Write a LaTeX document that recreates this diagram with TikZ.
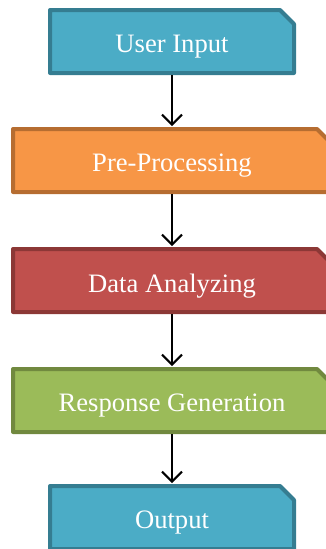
\documentclass[tikz,border=0pt]{standalone}
\usepackage{fontspec}
\setmainfont{Liberation Serif}
\usetikzlibrary{shapes.misc,arrows.meta}
\definecolor{bluefill}{HTML}{4BACC6}
\definecolor{blueline}{HTML}{357D91}
\definecolor{orangefill}{HTML}{F79646}
\definecolor{orangeline}{HTML}{B66D31}
\definecolor{redfill}{HTML}{C0504D}
\definecolor{redline}{HTML}{8C3836}
\definecolor{greenfill}{HTML}{9BBB59}
\definecolor{greenline}{HTML}{71893F}
\newcommand{\boxtext}[1]{\raisebox{-5.5pt}[\height][\depth]{#1}}
\tikzset{
  flowbox/.style={chamfered rectangle, chamfered rectangle corners=north east,
    chamfered rectangle xsep=7pt, chamfered rectangle ysep=7pt,
    line width=4pt, line join=round, minimum height=63pt, inner sep=0pt,
    text=white, font=\fontsize{26.6}{31}\selectfont},
  shortbox/.style={flowbox, minimum width=244pt},
  longbox/.style={flowbox, minimum width=318pt},
  flowarrow/.style={line width=2pt, -{Straight Barb[length=10pt,width=20pt,line width=2pt]}, shorten >=1pt}
}
\begin{document}
\begin{tikzpicture}[x=1pt,y=1pt]
\useasboundingbox (0,0) rectangle (326,-549);
\clip (0,0) rectangle (326,-549);
\node[shortbox, fill=bluefill, draw=blueline] (in) at (172,-41.5) {\boxtext{User Input}};
\node[longbox, fill=orangefill, draw=orangeline] (pre) at (172,-160.5) {\boxtext{Pre-Processing}};
\node[longbox, fill=redfill, draw=redline] (data) at (172,-280.5) {\boxtext{Data Analyzing}};
\node[longbox, fill=greenfill, draw=greenline] (resp) at (172,-400.5) {\boxtext{Response Generation}};
\node[shortbox, fill=bluefill, draw=blueline] (out) at (172,-517.5) {\boxtext{Output}};
\draw[flowarrow] (in.south) -- (pre.north);
\draw[flowarrow] (pre.south) -- (data.north);
\draw[flowarrow] (data.south) -- (resp.north);
\draw[flowarrow] (resp.south) -- (out.north);
\end{tikzpicture}
\end{document}
